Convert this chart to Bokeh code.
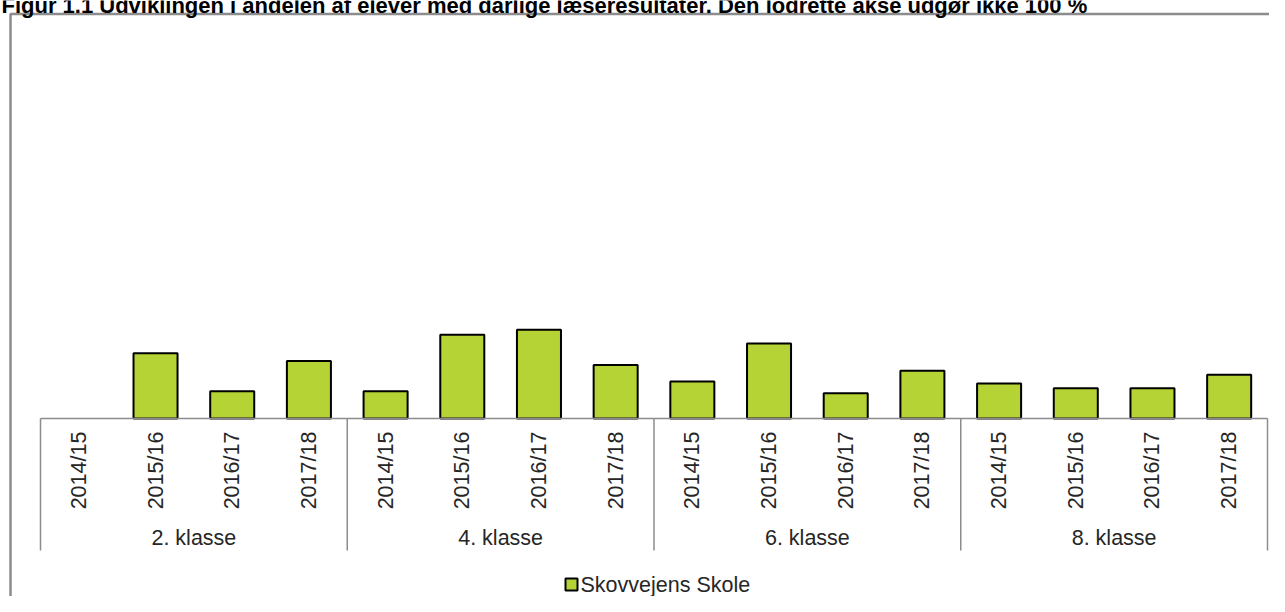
import math
from bokeh.plotting import figure
from bokeh.models import Range1d, ColumnDataSource
from bokeh.core.properties import value
from bokeh.embed import file_html
from bokeh.resources import INLINE

# ---- data (share of pupils, %) ----
title_text = ("Figur 1.1 Udviklingen i andelen af elever med dårlige læseresultater. "
              "Den lodrette akse udgør ikke 100 %")
series_name = "Skovvejens Skole"
grades = ["2. klasse", "4. klasse", "6. klasse", "8. klasse"]
years = ["2014/15", "2015/16", "2016/17", "2017/18"]
klasse2 = [float("nan"), 6.7, 2.8, 5.9]
klasse4 = [2.8, 8.6, 9.1, 5.5]
klasse6 = [3.8, 7.7, 2.6, 4.9]
klasse8 = [3.6, 3.1, 3.1, 4.5]

# ---- layout ----
W, H = 1269, 596
U = 1227 / 16.0      # px per category slot
YS = 9.75            # px per percent
FONT = "Liberation Sans"
GREEN = "#b5d334"
GREY = "#8c8c8c"
TXT = "#262626"
FS = "21.5px"


def cx(px):
    return (px - 40) / U


def cy(py):
    return (418 - py) / YS


p = figure(width=W, height=H, x_range=Range1d(cx(0), cx(W)), y_range=Range1d(cy(H), cy(0)),
           output_backend="svg", toolbar_location=None, min_border=0,
           x_axis_location=None, y_axis_location=None)
p.outline_line_color = None
p.grid.visible = False
p.background_fill_color = "white"
p.border_fill_color = "white"

all_vals = klasse2 + klasse4 + klasse6 + klasse8
xs = [i + 0.5 for i in range(len(all_vals))]
src = ColumnDataSource(dict(x=xs, top=all_vals,
                            year=[years[i % 4] for i in range(len(all_vals))]))

# outer chart frame
p.line([cx(10), cx(10), cx(W + 5)], [cy(H + 5), cy(13.5), cy(13.5)],
       line_color=GREY, line_width=2.5)

# title (partly cut off at the top, as in the reference)
p.text(x=[cx(1)], y=[cy(5)], text=[title_text], text_font=value(FONT),
       text_font_size="22px", text_font_style="bold", text_color="#000000",
       text_baseline="alphabetic", text_align="left")

# bars
p.vbar(x="x", top="top", bottom=0, width=0.574, source=src,
       fill_color=GREEN, line_color="#000000", line_width=2)

# category axis
n = len(all_vals)
p.segment(x0=[0], y0=[0], x1=[n], y1=[0], line_color=GREY, line_width=1.5)
seps = [g * len(years) for g in range(len(grades) + 1)]
p.segment(x0=seps, y0=[0] * len(seps), x1=seps, y1=[cy(550)] * len(seps),
          line_color=GREY, line_width=1.5)

p.text(x="x", y=cy(470), text="year", source=src, angle=math.pi / 2,
       text_font=value(FONT), text_font_size=FS, text_color=TXT,
       text_align="center", text_baseline="middle")

gx = [g * len(years) + len(years) / 2 for g in range(len(grades))]
p.text(x=gx, y=[cy(537)] * len(gx), text=grades, text_font=value(FONT),
       text_font_size=FS, text_color=TXT,
       text_align="center", text_baseline="middle")

# legend
p.scatter(x=[cx(571)], y=[cy(584)], marker="square", size=12,
          fill_color=GREEN, line_color="#000000", line_width=2)
p.text(x=[cx(580)], y=[cy(584)], text=[series_name], text_font=value(FONT),
       text_font_size=FS, text_color=TXT,
       text_align="left", text_baseline="middle")

open("out.html", "w").write(file_html(p, INLINE))
